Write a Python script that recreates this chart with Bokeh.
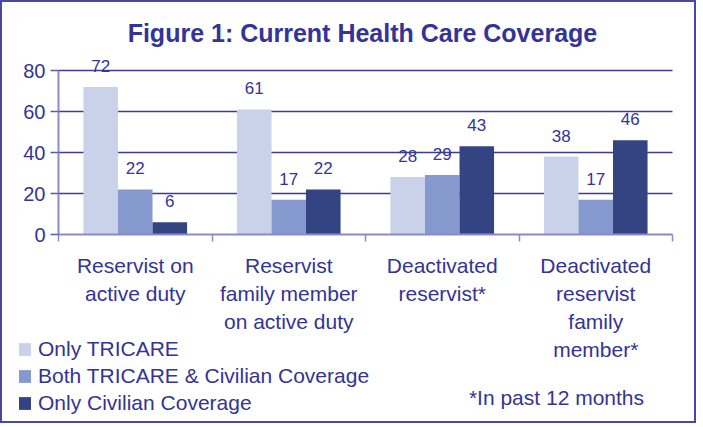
from bokeh.plotting import figure
from bokeh.models import (ColumnDataSource, Range1d, FixedTicker, LabelSet, Label,
                          Legend, LegendItem)
from bokeh.transform import dodge
from bokeh.core.properties import value
from bokeh.embed import file_html
from bokeh.resources import INLINE

# ---- data ----
categories = ["Reservist on\nactive duty",
              "Reservist\nfamily member\non active duty",
              "Deactivated\nreservist*",
              "Deactivated\nreservist\nfamily\nmember*"]
series_names = ["Only TRICARE", "Both TRICARE & Civilian Coverage", "Only Civilian Coverage"]
only_tricare = [72, 61, 28, 38]
both_coverage = [22, 17, 29, 17]
only_civilian = [6, 22, 43, 46]
y_ticks = [0, 20, 40, 60, 80]
title_text = "Figure 1: Current Health Care Coverage"
footnote_text = "*In past 12 months"

colors = ["#CAD2EA", "#8599CF", "#344482"]
text_color = "#333399"
FONT = "Liberation Sans"

# canvas geometry (pixels) -> data ranges so the whole canvas is the frame
W, H = 696, 423
px_x, px_y = 153.5, 2.05      # pixels per data unit
x0_px, y0_px = 56, 232        # canvas position of the data origin
n = len(categories)
x_range = Range1d(-x0_px / px_x, (W - x0_px) / px_x)
y_range = Range1d(-(H - y0_px) / px_y, y0_px / px_y)

p = figure(width=W, height=H, output_backend="svg", toolbar_location=None,
           x_range=x_range, y_range=y_range,
           min_border=0, min_border_left=0, min_border_right=0,
           min_border_top=0, min_border_bottom=0)
p.styles = {"border": "2px solid #4848a8"}
p.outline_line_color = None
p.background_fill_color = "white"
p.border_fill_color = "white"
p.xgrid.visible = False
p.ygrid.visible = False

centers = [i + 0.5 for i in range(n)]
bar_w = 0.225
offsets = [-bar_w, 0.0, bar_w]
all_series = [only_tricare, both_coverage, only_civilian]

# horizontal grid lines (over the plotting area only)
grid_vals = y_ticks[1:]
p.segment(x0=[0] * len(grid_vals), x1=[n] * len(grid_vals), y0=grid_vals, y1=grid_vals,
          line_color="#3a3a9e", line_width=1.6)

renderers = []
for vals, off, col in zip(all_series, offsets, colors):
    src = ColumnDataSource(dict(x=centers, top=vals, lab=[str(v) for v in vals]))
    r = p.vbar(x=dodge("x", off), top="top", bottom=0, width=bar_w,
               source=src, fill_color=col, line_color=None)
    renderers.append(r)
    ls = LabelSet(x=dodge("x", off), y="top", text="lab", source=src,
                  text_align="center", text_baseline="middle", y_offset=21,
                  text_font=value(FONT), text_font_size="17px", text_color=text_color)
    p.add_layout(ls)

# y axis
yax = p.yaxis[0]
yax.fixed_location = 0
yax.bounds = (y_ticks[0], y_ticks[-1])
yax.ticker = FixedTicker(ticks=y_ticks)
yax.axis_line_color = "#8a8ac8"
yax.axis_line_width = 2
yax.major_tick_line_color = "#5a5ab0"
yax.major_tick_line_width = 1.5
yax.major_tick_out = 8
yax.major_tick_in = 0
yax.minor_tick_line_color = None
yax.major_label_text_font = FONT
yax.major_label_text_font_size = "20px"
yax.major_label_text_color = text_color
yax.major_label_standoff = 5

# x axis: labels at category centres, tick marks at boundaries
xax = p.xaxis[0]
xax.fixed_location = 0
xax.bounds = (0, n)
xax.ticker = FixedTicker(ticks=centers, minor_ticks=list(range(n + 1)))
xax.major_label_overrides = {c: lab for c, lab in zip(centers, categories)}
xax.axis_line_color = "#8a8ac8"
xax.axis_line_width = 2
xax.major_tick_line_color = None
xax.major_tick_out = 0
xax.major_tick_in = 0
xax.minor_tick_line_color = "#8a8ac8"
xax.minor_tick_line_width = 1.5
xax.minor_tick_out = 7
xax.minor_tick_in = 0
xax.major_label_text_font = FONT
xax.major_label_text_font_size = "21px"
xax.major_label_text_color = text_color
xax.major_label_text_line_height = 1.23
xax.major_label_standoff = 12

# title and footnote
p.add_layout(Label(x=1.98, y=98.5, text=title_text, text_align="center",
                   text_baseline="middle", text_font=FONT, text_font_size="25px",
                   text_font_style="bold", text_color=text_color))
p.add_layout(Label(x=3.244, y=-79.5, text=footnote_text, text_align="center",
                   text_baseline="middle", text_font=FONT, text_font_size="21px",
                   text_color=text_color))

legend = Legend(items=[LegendItem(label=value(nm), renderers=[r])
                       for nm, r in zip(series_names, renderers)],
                location=(15, 10), padding=0, margin=0, spacing=3,
                glyph_width=15, glyph_height=16, label_height=20, label_standoff=6,
                label_text_font=FONT, label_text_font_size="21px",
                label_text_color=text_color, border_line_color=None,
                background_fill_alpha=0)
p.add_layout(legend)

open("out.html", "w").write(file_html(p, INLINE))
